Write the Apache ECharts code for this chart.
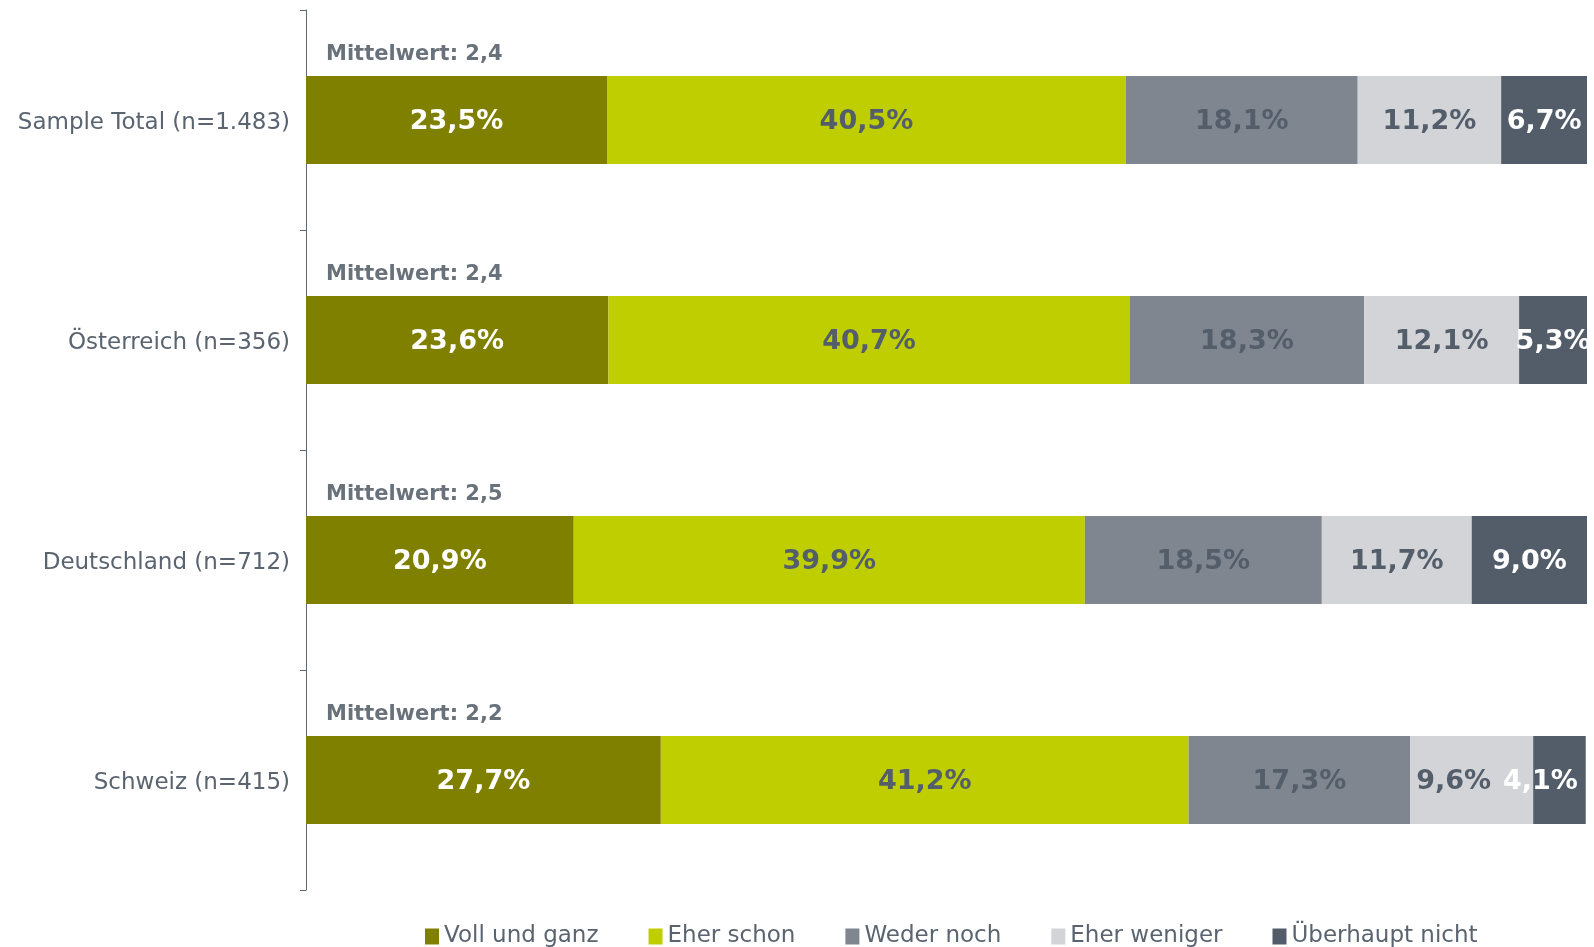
<!DOCTYPE html>
<html><head><meta charset="utf-8">
<script src="https://cdn.jsdelivr.net/npm/echarts@6/dist/echarts.min.js"></script>
<style>html,body{margin:0;padding:0;background:#fff}#c{width:1587px;height:947px}</style>
</head><body><div id="c"></div>
<script>
const categories = ['Sample Total (n=1.483)', 'Österreich (n=356)', 'Deutschland (n=712)', 'Schweiz (n=415)'];
const seriesNames = ['Voll und ganz', 'Eher schon', 'Weder noch', 'Eher weniger', 'Überhaupt nicht'];
const vollUndGanz = [23.5, 23.6, 20.9, 27.7];
const eherSchon = [40.5, 40.7, 39.9, 41.2];
const wederNoch = [18.1, 18.3, 18.5, 17.3];
const eherWeniger = [11.2, 12.1, 11.7, 9.6];
const ueberhauptNicht = [6.7, 5.3, 9.0, 4.1];
const mittelwert = ['2,4', '2,4', '2,5', '2,2'];

const colors = ['#808000', '#bfce00', '#7f8690', '#d3d4d8', '#525d69'];
const labelColors = ['#ffffff', '#535e6a', '#535e6a', '#535e6a', '#ffffff'];
const values = [vollUndGanz, eherSchon, wederNoch, eherWeniger, ueberhauptNicht];
const FONT = 'DejaVu Sans';

// narrow trailing segments get their labels nudged left (as in the original layout)
function labelShift(i, x) {
  if (i === 4 && x < 5) return -19;
  if (i === 3 && x < 10) return -18;
  return 0;
}

const barSeries = values.map((v, i) => ({
  name: seriesNames[i],
  type: 'bar',
  stack: 'total',
  barWidth: '40%',
  data: v.map(x => labelShift(i, x)
    ? { value: x, label: { offset: [labelShift(i, x), 2] } }
    : x),
  itemStyle: { color: colors[i] },
  label: {
    show: true,
    position: 'inside',
    color: labelColors[i],
    fontFamily: FONT,
    fontWeight: 'bold',
    fontSize: 27,
    offset: [0, 2],
    formatter: p => p.value.toFixed(1).replace('.', ',') + '%'
  }
}));

const meanSeries = {
  type: 'scatter',
  symbolSize: 0,
  silent: true,
  data: categories.map((c, i) => [0, i]),
  label: {
    show: true,
    position: 'right',
    distance: 0,
    offset: [20, -65],
    color: '#434e5a',
    fontFamily: FONT,
    fontWeight: 'bold',
    fontSize: 21,
    formatter: p => 'Mittelwert: ' + mittelwert[p.dataIndex]
  }
};

const chart = echarts.init(document.getElementById('c'));
chart.setOption({
  animation: false,
  backgroundColor: '#ffffff',
  grid: { left: 306, right: 0, top: 10, bottom: 57 },
  legend: {
    data: seriesNames,
    bottom: -1,
    left: 425,
    padding: 0,
    itemWidth: 14,
    itemHeight: 16,
    itemGap: 50,
    icon: 'rect',
    textStyle: { fontFamily: FONT, fontSize: 23, color: '#5a6470' }
  },
  xAxis: { type: 'value', min: 0, max: 100, show: false },
  yAxis: {
    type: 'category',
    data: categories,
    inverse: true,
    axisLine: { lineStyle: { color: '#5f6976', width: 1 } },
    axisTick: { show: true, length: 6, lineStyle: { color: '#5f6976' } },
    axisLabel: {
      margin: 16,
      formatter: v => '{c|' + v + '}',
      rich: { c: { fontFamily: FONT, fontSize: 23, color: '#5a6470', padding: [6, 0, 0, 0] } }
    },
    splitLine: { show: false }
  },
  series: barSeries.concat([meanSeries])
});
</script></body></html>
